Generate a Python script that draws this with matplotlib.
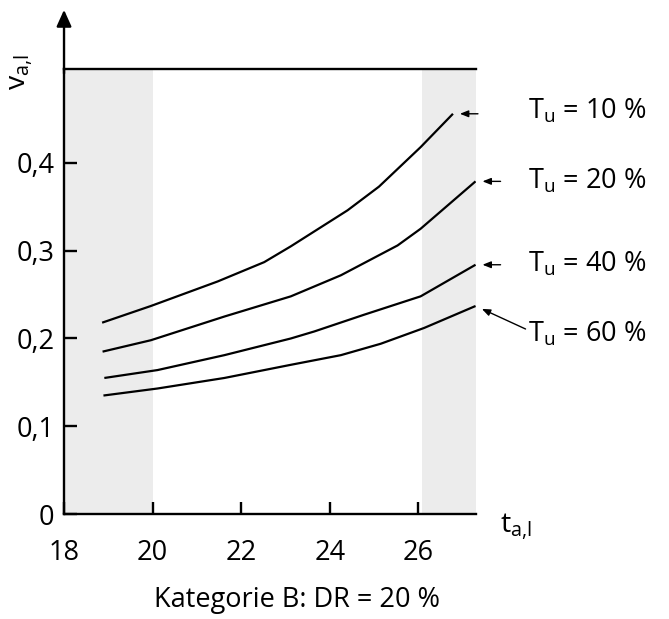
import numpy as np
import matplotlib
matplotlib.use("Agg")
import matplotlib.pyplot as plt

plt.rcParams['font.family'] = ['Open Sans', 'DejaVu Sans']
plt.rcParams['mathtext.fontset'] = 'custom'
plt.rcParams['mathtext.rm'] = 'Open Sans'

# curves v_a,l over t_a,l for different T_u
t_10 = [18.86, 19.96, 21.47, 22.52, 23.12, 24.40, 25.11, 26.05, 26.78]
v_10 = [0.218, 0.237, 0.265, 0.287, 0.305, 0.346, 0.373, 0.418, 0.456]

t_20 = [18.87, 19.96, 21.62, 23.12, 24.25, 25.53, 26.05, 27.29]
v_20 = [0.185, 0.198, 0.225, 0.248, 0.272, 0.306, 0.325, 0.379]

t_40 = [18.91, 20.11, 21.62, 23.12, 23.65, 24.77, 26.05, 27.29]
v_40 = [0.155, 0.164, 0.181, 0.200, 0.208, 0.227, 0.248, 0.284]

t_60 = [18.89, 20.11, 21.62, 23.12, 24.25, 25.15, 26.13, 27.29]
v_60 = [0.135, 0.143, 0.155, 0.170, 0.181, 0.194, 0.212, 0.237]

curve_labels = ['10 %', '20 %', '40 %', '60 %']

x_ticks = [18, 20, 22, 24, 26]
y_ticks = [0, 0.1, 0.2, 0.3, 0.4]
y_ticklabels = ['0', '0,1', '0,2', '0,3', '0,4']

# shaded ranges
band_left = (18, 20)
band_right = (26.07, 27.3)

FS = 19.5

fig = plt.figure(figsize=(6.69, 6.19), dpi=100)
ax = fig.add_axes([0.0957, 0.1696, 0.6158, 0.7189])

ax.axvspan(*band_left, color='#ececec', lw=0, zorder=0)
ax.axvspan(*band_right, color='#ececec', lw=0, zorder=0)

curves = [(t_10, v_10), (t_20, v_20), (t_40, v_40), (t_60, v_60)]
for t, v in curves:
    ax.plot(t, v, color='black', lw=1.6, solid_capstyle='butt')

ax.set_xlim(18, 27.3)
ax.set_ylim(0, 0.507)

for s in ['left', 'bottom', 'top']:
    ax.spines[s].set_linewidth(1.7)
ax.spines['right'].set_visible(False)

ax.set_xticks(x_ticks)
ax.set_xticklabels([str(x) for x in x_ticks])
ax.set_yticks(y_ticks)
ax.set_yticklabels(y_ticklabels)
ax.tick_params(direction='in', length=9, width=1.7, labelsize=FS)
ax.tick_params(axis='x', pad=18, top=False)
ax.tick_params(axis='y', pad=7)

# arrow on the y axis
ax.annotate('', xy=(0, 1.133), xycoords='axes fraction', xytext=(0, 0.99),
            arrowprops=dict(arrowstyle='-|>,head_length=1.0,head_width=0.45',
                            lw=1.7, color='black', shrinkA=0, shrinkB=0),
            annotation_clip=False)

# axis labels
fig.text(22 / 669, 1 - 72 / 619, r'v$_{\mathregular{a{,}l}}$', rotation=90,
         fontsize=FS + 1, ha='center', va='center')
fig.text(500 / 669, 1 - 528 / 619, r't$_{\mathregular{a{,}l}}$',
         fontsize=FS + 1, ha='left', va='center')

# curve labels with small arrows
label_base = [0.809, 0.696, 0.562, 0.449]
tail_offsets = [(25, 0), (25, 0), (25, 0), (50, -23)]
for (t, v), lab, yb, off in zip(curves, curve_labels, label_base, tail_offsets):
    fig.text(528 / 669, yb, r'T$_{\mathregular{u}}$ = ' + lab, fontsize=FS,
             ha='left', va='baseline')
    ax.annotate('', xy=(t[-1], v[-1]), xytext=off, textcoords='offset pixels',
                arrowprops=dict(arrowstyle='-|>,head_length=0.5,head_width=0.2',
                                lw=1.0, color='black', shrinkA=0, shrinkB=5),
                annotation_clip=False)

fig.text(297 / 669, 1 - 600 / 619, 'Kategorie B: DR = 20 %', fontsize=FS,
         ha='center', va='center')

fig.savefig('out.png', dpi=100)
